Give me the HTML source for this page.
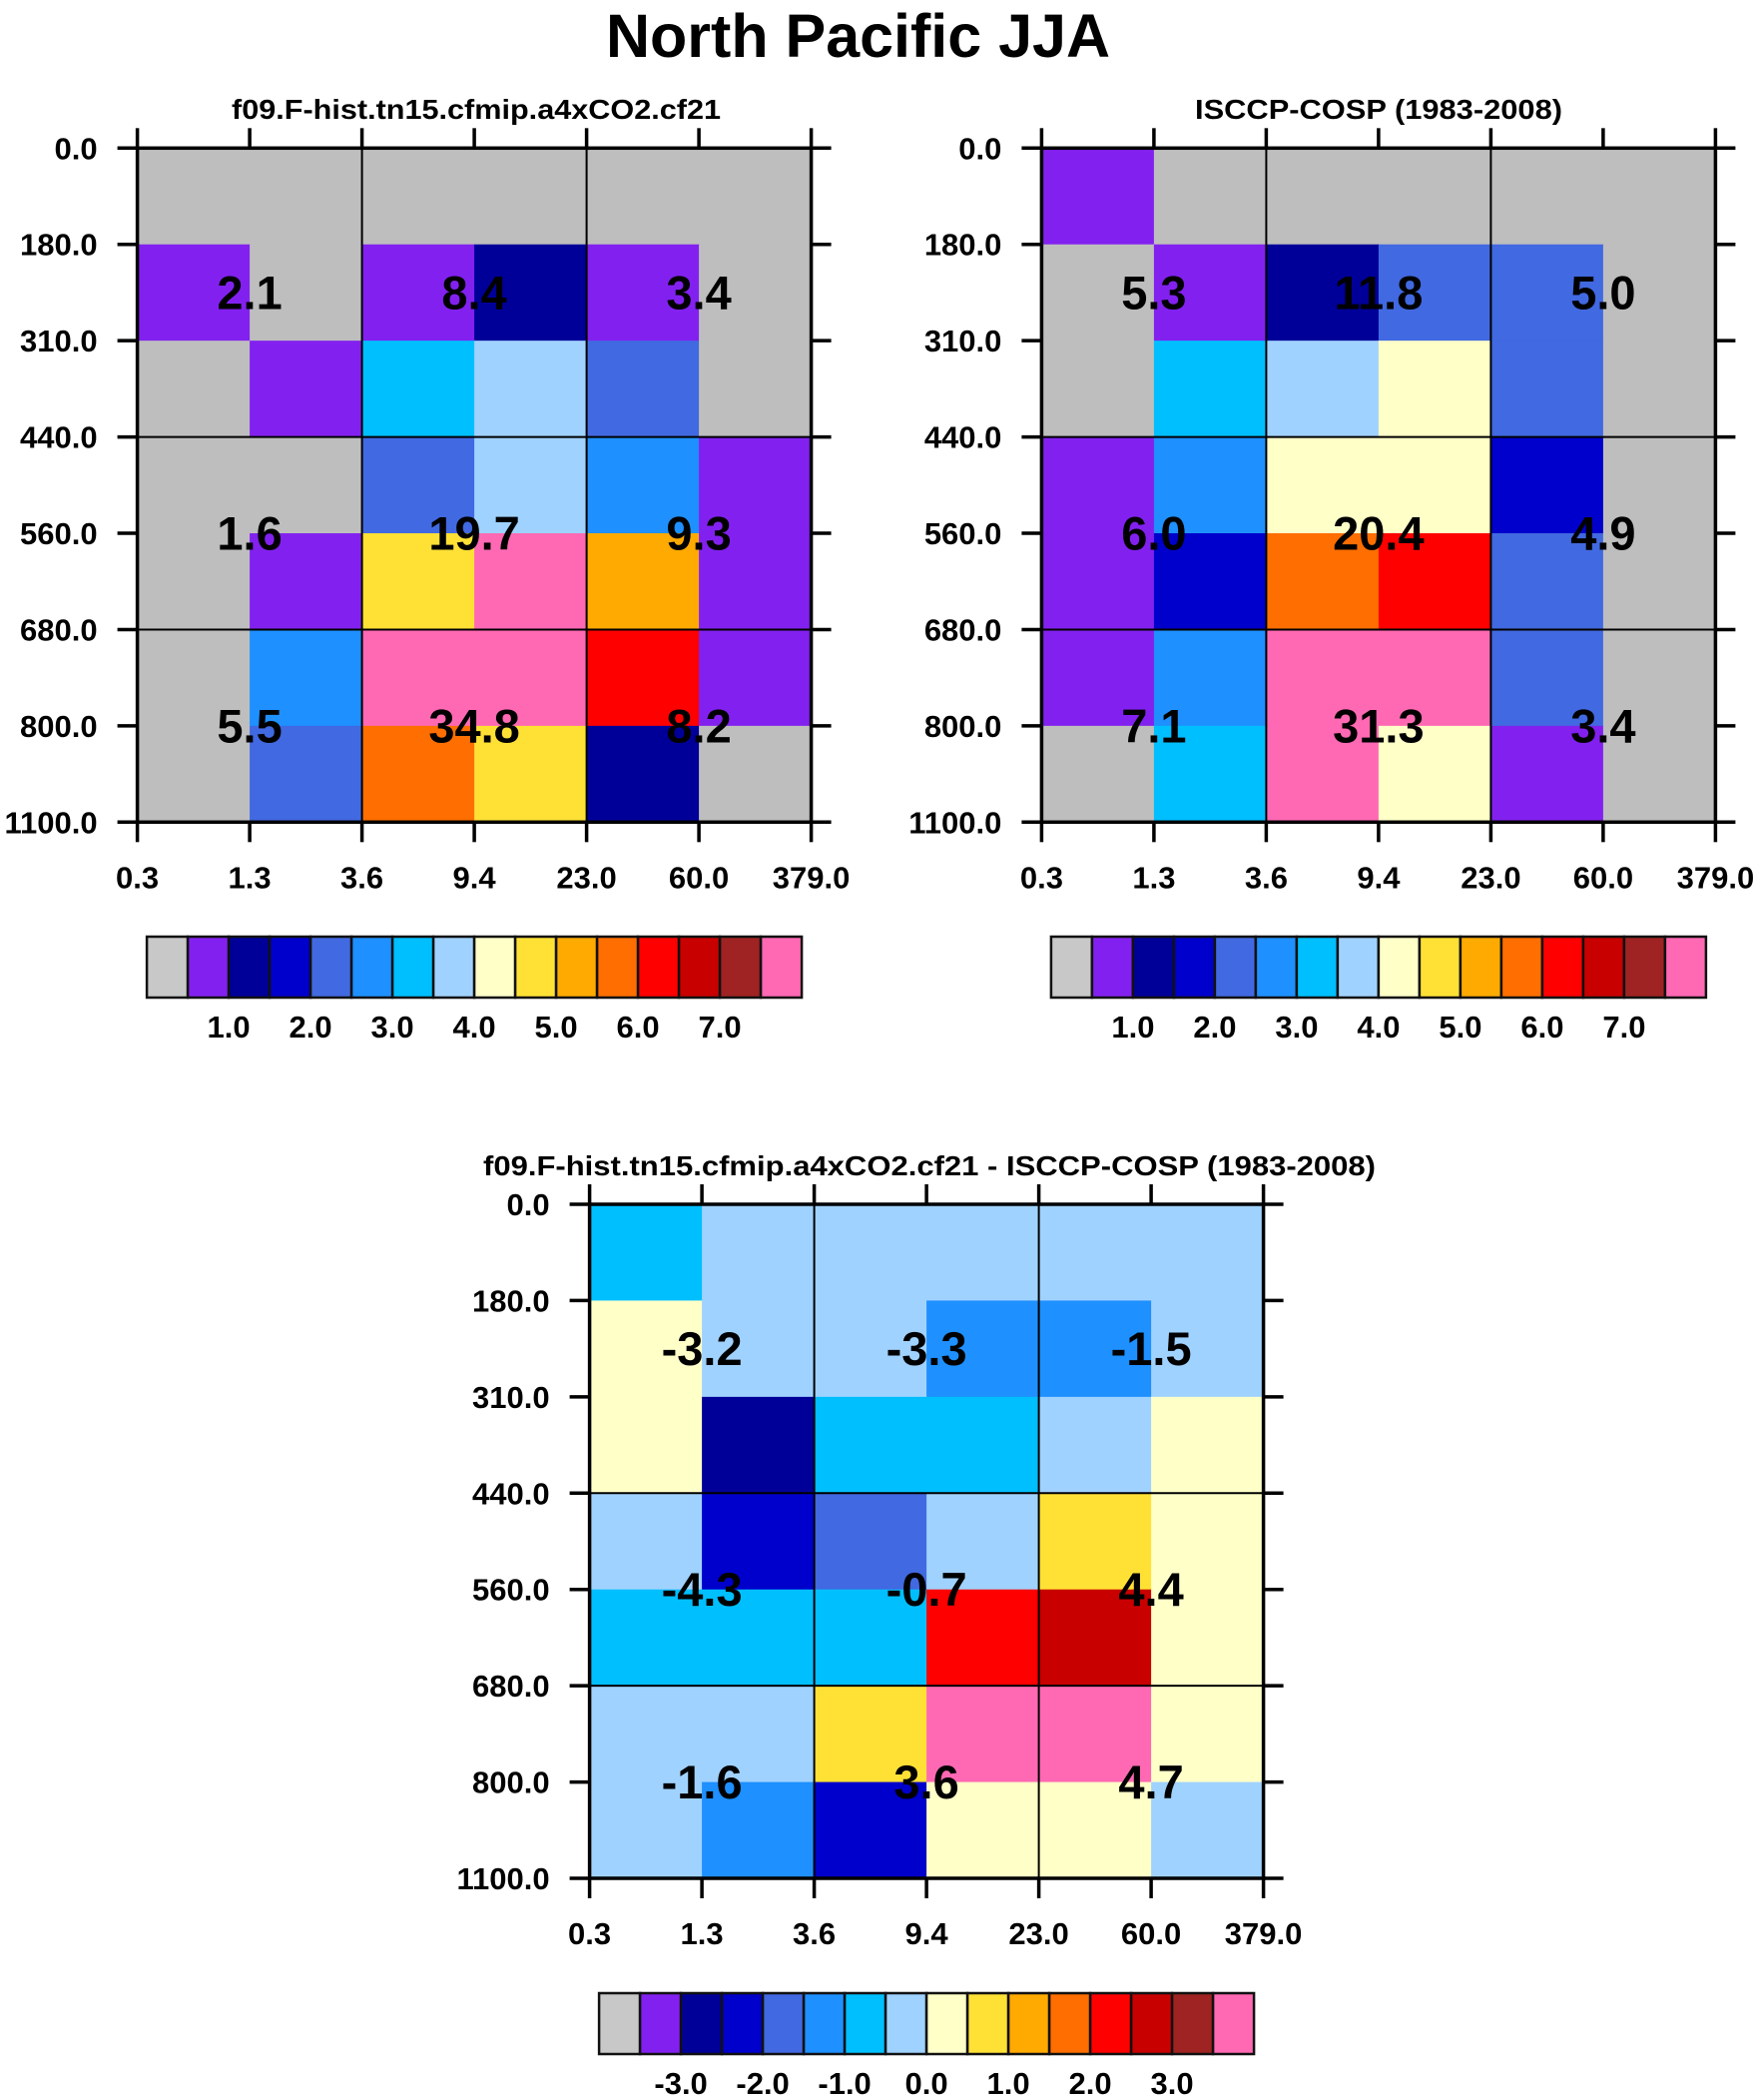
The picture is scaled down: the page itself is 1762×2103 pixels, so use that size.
<!DOCTYPE html>
<html><head><meta charset="utf-8"><style>
html,body{margin:0;padding:0;background:#fff;}
svg{display:block;font-family:"Liberation Sans",sans-serif;font-weight:bold;}
</style></head><body>
<svg id="fig" width="1762" height="2103" viewBox="0 0 1762 2103" xmlns="http://www.w3.org/2000/svg">
<text x="607" y="57" font-size="61" textLength="505" lengthAdjust="spacingAndGlyphs">North Pacific JJA</text>
</svg>
<script>
const palette = ["#BEBEBE","#8221EF","#000099","#0000CC","#4169E1","#1E90FF","#00BFFF","#A0D2FF","#FFFFC8","#FFE135","#FFAA00","#FF6E00","#FF0000","#C80000","#A02323","#FF69B4"];
const xTickLabels = ["0.3","1.3","3.6","9.4","23.0","60.0","379.0"];
const yTickLabels = ["0.0","180.0","310.0","440.0","560.0","680.0","800.0","1100.0"];
const cbLabelsAbs = ["1.0","2.0","3.0","4.0","5.0","6.0","7.0"];
const cbLabelsDiff = ["-3.0","-2.0","-1.0","0.0","1.0","2.0","3.0"];
const gridModel = [
 [0,0,0,0,0,0],[1,0,1,2,1,0],[0,1,6,7,4,0],[0,0,4,7,5,1],[0,1,9,15,10,1],[0,5,15,15,12,1],[0,4,11,9,2,0]];
const gridObs = [
 [1,0,0,0,0,0],[0,1,2,4,4,0],[0,6,7,8,4,0],[1,5,8,8,3,0],[1,3,11,12,4,0],[1,5,15,15,4,0],[0,6,15,8,1,0]];
const gridDiff = [
 [6,7,7,7,7,7],[8,7,7,5,5,7],[8,2,6,6,7,8],[7,3,4,7,9,8],[6,6,6,12,13,8],[7,7,9,15,15,8],[7,5,3,8,8,7]];
const valsModel = [["2.1","8.4","3.4"],["1.6","19.7","9.3"],["5.5","34.8","8.2"]];
const valsObs = [["5.3","11.8","5.0"],["6.0","20.4","4.9"],["7.1","31.3","3.4"]];
const valsDiff = [["-3.2","-3.3","-1.5"],["-4.3","-0.7","4.4"],["-1.6","3.6","4.7"]];

const svg = document.getElementById('fig');
const NS = "http://www.w3.org/2000/svg";
function mk(tag, attrs, parent){const e=document.createElementNS(NS,tag);for(const k in attrs)e.setAttribute(k,attrs[k]);(parent||svg).appendChild(e);return e;}

function panel(name, x0, y0, grid, vals, title, tx, tlen, tby, cbY, cbLabels){
  const W=675, H=675, cw=W/6, rh=H/7;
  const g = mk('g',{});
  
  
  const xs = i => x0 + i*cw, ys = j => y0 + j*rh;
  grid.forEach((row,j)=>row.forEach((c,i)=>{
    const r = mk('rect',{x:xs(i),y:ys(j),width:cw+0.5,height:rh+0.5,fill:palette[c]},g);
    
    
  }));
  [2,4].forEach(i=>mk('line',{x1:xs(i),x2:xs(i),y1:y0,y2:y0+H,stroke:'#000','stroke-width':2},g));
  [3,5].forEach(j=>mk('line',{x1:x0,x2:x0+W,y1:ys(j),y2:ys(j),stroke:'#000','stroke-width':2},g));
  const fr = mk('rect',{x:x0,y:y0,width:W,height:H,fill:'none',stroke:'#000','stroke-width':3.5},g);
  
  
  for(let i=0;i<7;i++){
    mk('line',{x1:xs(i),x2:xs(i),y1:y0-20,y2:y0,stroke:'#000','stroke-width':3.5},g);
    mk('line',{x1:xs(i),x2:xs(i),y1:y0+H,y2:y0+H+20,stroke:'#000','stroke-width':3.5},g);
    const t = mk('text',{x:xs(i),y:y0+H+66,'font-size':31,'text-anchor':'middle'},g);
    
    
    t.textContent = xTickLabels[i];
  }
  for(let j=0;j<8;j++){
    mk('line',{x1:x0-20,x2:x0,y1:ys(j),y2:ys(j),stroke:'#000','stroke-width':3.5},g);
    mk('line',{x1:x0+W,x2:x0+W+20,y1:ys(j),y2:ys(j),stroke:'#000','stroke-width':3.5},g);
    const t = mk('text',{x:x0-40,y:ys(j)+11,'font-size':31,'text-anchor':'end'},g);
    
    
    t.textContent = yTickLabels[j];
  }
  const rowPos=[1.5,4,6], colPos=[1,3,5];
  vals.forEach((row,j)=>row.forEach((v,i)=>{
    const t = mk('text',{x:xs(colPos[i]),y:ys(rowPos[j])+16.5,'font-size':47,'text-anchor':'middle'},g);
    
    
    t.textContent = v;
  }));
  const tt = mk('text',{x:tx,y:tby,'font-size':28,textLength:tlen,lengthAdjust:'spacingAndGlyphs'},g);
  
  
  tt.textContent = title;
  const cbx = x0+9.5, bw = 41, bh = 61;
  const cb = mk('g',{},g);
  
  
  palette.forEach((c,k)=>{
    const r = mk('rect',{x:cbx+k*bw,y:cbY,width:bw,height:bh,fill:k===0?'#C8C8C8':c,stroke:'#111','stroke-width':2.5},cb);
    
    
  });
  cbLabels.forEach((l,k)=>{
    const t = mk('text',{x:cbx+(2*k+2)*bw,y:cbY+101,'font-size':31,'text-anchor':'middle'},cb);
    
    
    t.textContent = l;
  });
}
panel('model-panel',137.6,148.3,gridModel,valsModel,'f09.F-hist.tn15.cfmip.a4xCO2.cf21',232,490,119,938,cbLabelsAbs);
panel('obs-panel',1043.4,148.3,gridObs,valsObs,'ISCCP-COSP (1983-2008)',1197,368,119,938,cbLabelsAbs);
panel('diff-panel',590.6,1206,gridDiff,valsDiff,'f09.F-hist.tn15.cfmip.a4xCO2.cf21 - ISCCP-COSP (1983-2008)',484,894,1177,1996,cbLabelsDiff);
</script>
</body></html>
